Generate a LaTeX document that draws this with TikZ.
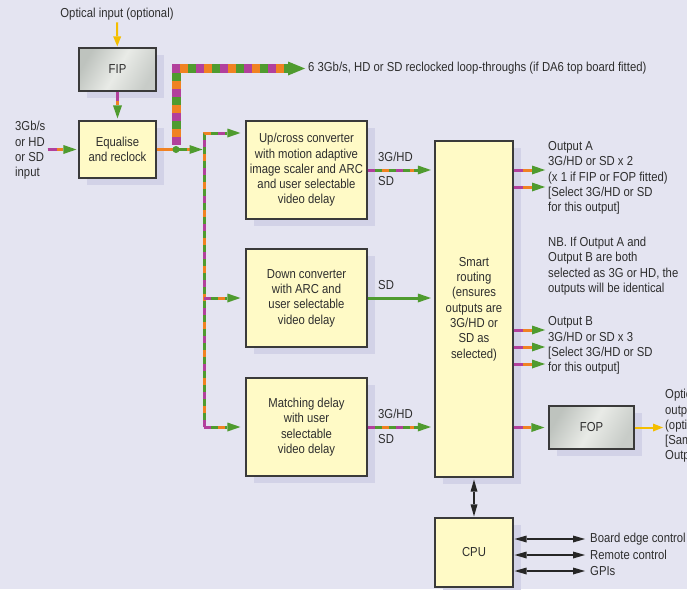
\documentclass[tikz,border=0pt]{standalone}
\usepackage{fontspec}
\setmainfont{Liberation Sans}[FakeStretch=0.87]
\usetikzlibrary{arrows.meta,shadows}
\definecolor{dabg}{HTML}{E4E4F1}
\definecolor{dashadow}{HTML}{D2D2E7}
\definecolor{daboxfill}{HTML}{FFFAC6}
\definecolor{daedge}{HTML}{3A3A3A}
\definecolor{datext}{HTML}{2E2E2E}
\definecolor{dagreen}{HTML}{4F9B2F}
\definecolor{dapurple}{HTML}{B2409C}
\definecolor{daorange}{HTML}{F08222}
\definecolor{dayellow}{HTML}{F4BE00}
\definecolor{dametaldark}{HTML}{BEC3BE}
\definecolor{dametallight}{HTML}{E9EBE7}
\newcommand\dafont{\fontsize{13pt}{15.3pt}\selectfont}

\tikzset{
  gtip/.tip={Triangle[length=13pt,width=9pt,line width=0pt,color=dagreen]},
  ktip/.tip={Triangle[length=12pt,width=7pt,line width=0pt]},
  ytip/.tip={Triangle[length=10pt,width=8pt,line width=0pt]},
  dabox/.style={draw=daedge, line width=1.2pt, fill=daboxfill, align=center, inner sep=2pt,
    drop shadow={shadow xshift=8pt, shadow yshift=-7pt, fill=dashadow, opacity=1}},
  dametal/.style={dabox, left color=dametaldark, right color=dametaldark!85!white,
    middle color=dametallight, shading angle=60},
  datxt/.style={inner sep=0pt, align=left},
  mixwire/.style={draw=dagreen, line width=3pt,
    postaction={draw=dapurple, -, shorten >=#1, dash pattern=on 7pt off 21pt},
    postaction={draw=daorange, -, shorten >=#1, dash pattern=on 7pt off 21pt, dash phase=14pt}},
  mixwire/.default=0pt,
  mixbus/.style={mixwire=20pt, -gtip},
  pairarrow/.style={draw=daorange, line width=3pt, -gtip,
    postaction={draw=dapurple, -, dash pattern=on 9pt off 400pt}},
  orangearrow/.style={draw=daorange, line width=3pt, -gtip,
    postaction={draw=dagreen, -, dash pattern=on 0pt off 20pt on 10pt off 100pt}},
  sdarrow/.style={draw=dagreen, line width=3pt, -gtip},
  loopline/.style={draw=dagreen, line width=9pt, -{Triangle[length=17pt,width=14pt,line width=0pt]},
    postaction={draw=dapurple, -, shorten >=20pt, dash pattern=on 8pt off 16pt},
    postaction={draw=daorange, -, shorten >=20pt, dash pattern=on 8pt off 16pt, dash phase=16pt}},
  optarrow/.style={draw=dayellow, line width=2pt, -ytip},
  cpuarrow/.style={draw=black!85, line width=2pt, ktip-ktip}
}

\begin{document}
\begin{tikzpicture}[x=1pt, y=-1pt, every node/.style={font=\dafont, text=datext}]
  \useasboundingbox (0,0) rectangle (687,589);
  \clip (0,0) rectangle (687,589);
  \fill[dabg] (0,0) rectangle (687,589);

  \node[dametal, minimum width=77pt, minimum height=43pt] (fip) at (117.5,69.5) {FIP};
  \node[dabox, minimum width=77pt, minimum height=57pt] (eq) at (117.5,149.5) {Equalise\\and reclock};
  \node[dabox, minimum width=121pt, minimum height=98pt] (up) at (306.5,170)
    {Up/cross converter\\with motion adaptive\\image scaler and ARC\\and user selectable\\video delay};
  \node[dabox, minimum width=121pt, minimum height=98pt] (down) at (306.5,298)
    {Down converter\\with ARC and\\user selectable\\video delay};
  \node[dabox, minimum width=121pt, minimum height=98pt] (match) at (306.5,427)
    {Matching delay\\with user\\selectable\\video delay};
  \node[dabox, minimum width=78pt, minimum height=336pt] (smart) at (474,309)
    {Smart\\routing\\(ensures\\outputs are\\3G/HD or\\SD as\\selected)};
  \node[dametal, minimum width=85pt, minimum height=43pt] (fop) at (591.5,427.5) {FOP};
  \node[dabox, minimum width=78pt, minimum height=69pt] (cpu) at (474,552.5) {CPU};

  \node[datxt] (optin) at (117,14) {Optical input (optional)};
  \node[datxt, anchor=west] (srcin) at (15,150.5) {3Gb/s\\or HD\\or SD\\input};
  \node[datxt, anchor=west] (loop) at (308,68.5)
    {6 3Gb/s, HD or SD reclocked loop-throughs (if DA6 top board fitted)};
  \node[datxt, anchor=west] (upfmt) at (378,157) {3G/HD};
  \node[datxt, anchor=west] (upsd) at (378,181) {SD};
  \node[datxt, anchor=west] (downsd) at (378,285) {SD};
  \node[datxt, anchor=west] (matchfmt) at (378,414) {3G/HD};
  \node[datxt, anchor=west] (matchsd) at (378,439) {SD};
  \node[datxt, anchor=west] (outa) at (548,178)
    {Output A\\3G/HD or SD x 2\\(x 1 if FIP or FOP fitted)\\{[Select 3G/HD or SD}\\for this output]};
  \node[datxt, anchor=west] (note) at (548,266)
    {NB. If Output A and\\Output B are both\\selected as 3G or HD, the\\outputs will be identical};
  \node[datxt, anchor=west] (outb) at (548,345.5)
    {Output B\\3G/HD or SD x 3\\{[Select 3G/HD or SD}\\for this output]};
  \node[datxt, anchor=west] (optout) at (665,426)
    {Optical\\output\\(optional)\\{[Same as}\\Output B]};
  \node[datxt, anchor=west] (edge) at (590,539) {Board edge control};
  \node[datxt, anchor=west] (remote) at (590,555) {Remote control};
  \node[datxt, anchor=west] (gpis) at (590,571) {GPIs};

  \coordinate (tap) at (176,149.5);
  \coordinate (bustop) at (204,133);
  \coordinate (oa1) at (545,170);
  \coordinate (oa2) at (545,187);
  \coordinate (ob1) at (545,330);
  \coordinate (ob2) at (545,347);
  \coordinate (ob3) at (545,364);

  \draw[optarrow, shorten <=2pt, shorten >=1pt] (optin) -- (fip);
  \draw[pairarrow, shorten >=2pt] (fip) -- (eq);
  \draw[pairarrow, shorten <=2pt, shorten >=2pt] (srcin.east |- eq.west) -- (eq.west);
  \draw[loopline, shorten <=5pt, shorten >=3pt] (tap) |- (loop.west);
  \draw[orangearrow, shorten >=1.5pt] (eq) -- (eq.east -| bustop);
  \fill[dagreen] (tap) circle (3.5pt);

  \draw[mixbus, shorten >=5pt] (bustop |- match.west) -- (bustop) -- (bustop -| up.west);
  \draw[mixbus, shorten >=5pt] (bustop |- down.west) -- (down.west);
  \draw[mixbus, shorten >=5pt] (bustop |- match.west) -- (match.west);

  \draw[mixbus, shorten >=3.5pt] (up) -- (up -| smart.west);
  \draw[sdarrow, shorten >=3.5pt] (down) -- (down -| smart.west);
  \draw[mixbus, shorten >=3.5pt] (match) -- (match -| smart.west);

  \draw[pairarrow] (smart.east |- oa1) -- (oa1);
  \draw[pairarrow] (smart.east |- oa2) -- (oa2);
  \draw[pairarrow] (smart.east |- ob1) -- (ob1);
  \draw[pairarrow] (smart.east |- ob2) -- (ob2);
  \draw[pairarrow] (smart.east |- ob3) -- (ob3);
  \draw[pairarrow, shorten >=4pt] (smart.east |- fop.west) -- (fop.west);
  \draw[optarrow, shorten >=2pt] (fop.east) -- (optout.west |- fop.east);

  \draw[cpuarrow, shorten <=2pt, shorten >=1pt] (smart) -- (cpu);
  \draw[cpuarrow, shorten <=1pt, shorten >=5pt] (cpu.east |- edge) -- (edge);
  \draw[cpuarrow, shorten <=1pt, shorten >=5pt] (cpu.east |- remote) -- (remote);
  \draw[cpuarrow, shorten <=1pt, shorten >=5pt] (cpu.east |- gpis) -- (gpis);
\end{tikzpicture}
\end{document}
